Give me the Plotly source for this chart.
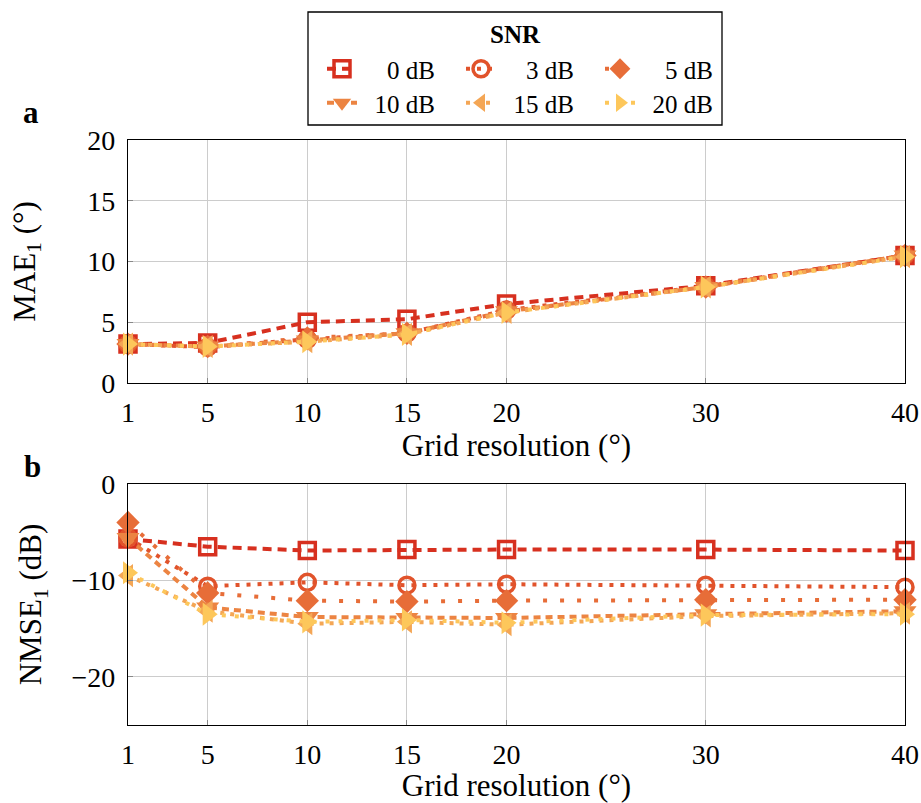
import plotly.graph_objects as go

# Grid resolution (degrees)
grid_res = [1, 5, 10, 15, 20, 30, 40]
x_ticks = [1, 5, 10, 15, 20, 30, 40]

snr_labels = ["0 dB", "3 dB", "5 dB", "10 dB", "15 dB", "20 dB"]

# MAE_1 (degrees) per SNR
mae_0 = [3.2, 3.3, 5.0, 5.25, 6.5, 8.0, 10.5]
mae_3 = [3.2, 2.95, 3.6, 4.1, 6.0, 7.95, 10.5]
mae_5 = [3.2, 3.0, 3.7, 4.1, 5.9, 7.9, 10.5]
mae_10 = [3.2, 3.0, 3.5, 4.1, 5.9, 7.9, 10.5]
mae_15 = [3.2, 3.0, 3.4, 4.0, 5.8, 7.9, 10.4]
mae_20 = [3.2, 3.0, 3.4, 4.0, 5.8, 7.9, 10.4]

# NMSE_1 (dB) per SNR
nmse_0 = [-5.7, -6.5, -6.9, -6.8, -6.8, -6.8, -6.9]
nmse_3 = [-5.6, -10.6, -10.2, -10.5, -10.4, -10.5, -10.7]
nmse_5 = [-4.0, -11.3, -12.1, -12.2, -12.1, -12.0, -12.0]
nmse_10 = [-5.6, -12.8, -13.8, -13.9, -13.9, -13.5, -13.2]
nmse_15 = [-9.5, -13.2, -14.5, -14.3, -14.6, -13.7, -13.4]
nmse_20 = [-9.2, -13.5, -14.3, -14.1, -14.4, -13.6, -13.5]

mae = [mae_0, mae_3, mae_5, mae_10, mae_15, mae_20]
nmse = [nmse_0, nmse_3, nmse_5, nmse_10, nmse_15, nmse_20]

colors = ["#d7301f", "#e1532b", "#e76d38", "#ec8442", "#f4a655", "#fdc75b"]
dashes = ["9px,6px", "4px,7px", "4px,13px", "7px,5px", "4px,6px", "4px,9px"]
symbols = ["square-open", "circle-open", "diamond", "triangle-down",
           "triangle-left", "triangle-right"]
sizes = [16, 16, 18, 20, 20, 20]

FONT = "Liberation Serif"
TICK_SIZE = 28
TITLE_SIZE = 31
LEGEND_SIZE = 25
W, H = 921, 803

NBSP = "\u00a0"
FIGSP = "\u2007"


def px_x(p):
    return p / W


def px_y(p):
    return 1 - p / H


def legend_name(label):
    # right-align the labels inside their legend column
    pad = NBSP * 2 + (FIGSP if len(label.split()[0]) == 1 else "")
    return pad + label


fig = go.Figure()

for i, lab in enumerate(snr_labels):
    open_marker = symbols[i].endswith("-open")
    marker = dict(symbol=symbols[i], size=sizes[i], color=colors[i],
                  line=dict(color=colors[i], width=3.5 if open_marker else 0))
    line = dict(color=colors[i], width=4, dash=dashes[i])
    leg = "legend" if i < 3 else "legend2"
    fig.add_trace(go.Scatter(x=grid_res, y=mae[i], mode="lines+markers",
                             name=legend_name(lab), line=line, marker=marker,
                             xaxis="x", yaxis="y", legend=leg,
                             cliponaxis=False))
    fig.add_trace(go.Scatter(x=grid_res, y=nmse[i], mode="lines+markers",
                             name=lab, line=line, marker=marker,
                             xaxis="x2", yaxis="y2", showlegend=False,
                             cliponaxis=False))

axis_common = dict(
    showline=True, mirror=True, linecolor="black", linewidth=1.3,
    showgrid=True, gridcolor="#cccccc", gridwidth=1, zeroline=False,
    ticks="inside", ticklen=5, tickcolor="#888888",
    tickfont=dict(family=FONT, size=TICK_SIZE, color="black"),
)

xdom = [px_x(128), px_x(905)]
xtitle = dict(text="Grid resolution (°)", standoff=0,
              font=dict(family=FONT, size=TITLE_SIZE))
legend_common = dict(orientation="h", xanchor="left", yanchor="top",
                     entrywidth=94, bgcolor="rgba(0,0,0,0)",
                     font=dict(family=FONT, size=LEGEND_SIZE), itemwidth=30)

fig.update_layout(
    width=W, height=H,
    margin=dict(l=0, r=0, t=0, b=0, autoexpand=False),
    paper_bgcolor="white", plot_bgcolor="white",
    font=dict(family=FONT, color="black"),
    xaxis=dict(axis_common, domain=xdom, range=[1, 40], tickvals=x_ticks,
               anchor="y", ticklabelstandoff=4, title=xtitle),
    yaxis=dict(axis_common, domain=[px_y(383), px_y(140)], range=[0, 20],
               tickvals=[0, 5, 10, 15, 20], anchor="x", ticklabelstandoff=6,
               title=dict(text="MAE<sub>1</sub> (°)", standoff=42,
                          font=dict(family=FONT, size=TITLE_SIZE))),
    xaxis2=dict(axis_common, domain=xdom, range=[1, 40], tickvals=x_ticks,
                anchor="y2", ticklabelstandoff=4, title=xtitle),
    yaxis2=dict(axis_common, domain=[px_y(725), px_y(484)], range=[-25, 0],
                tickvals=[-20, -10, 0], anchor="x2", ticklabelstandoff=6,
                title=dict(text="NMSE<sub>1</sub> (dB)", standoff=20,
                           font=dict(family=FONT, size=TITLE_SIZE))),
    legend=dict(legend_common, x=px_x(322), y=px_y(46)),
    legend2=dict(legend_common, x=px_x(322), y=px_y(80)),
    shapes=[dict(type="rect", xref="paper", yref="paper",
                 x0=px_x(308), x1=px_x(722), y0=px_y(125), y1=px_y(12),
                 line=dict(color="black", width=1.3))],
    annotations=[
        dict(text="<b>SNR</b>", x=px_x(515), y=px_y(35), xref="paper",
             yref="paper", showarrow=False, xanchor="center", yanchor="middle",
             font=dict(family=FONT, size=LEGEND_SIZE)),
        dict(text="<b>a</b>", x=px_x(31), y=px_y(112), xref="paper",
             yref="paper", showarrow=False, xanchor="center", yanchor="middle",
             font=dict(family=FONT, size=TITLE_SIZE)),
        dict(text="<b>b</b>", x=px_x(32), y=px_y(466), xref="paper",
             yref="paper", showarrow=False, xanchor="center", yanchor="middle",
             font=dict(family=FONT, size=TITLE_SIZE)),
    ],
)

fig.write_html("out.html")
